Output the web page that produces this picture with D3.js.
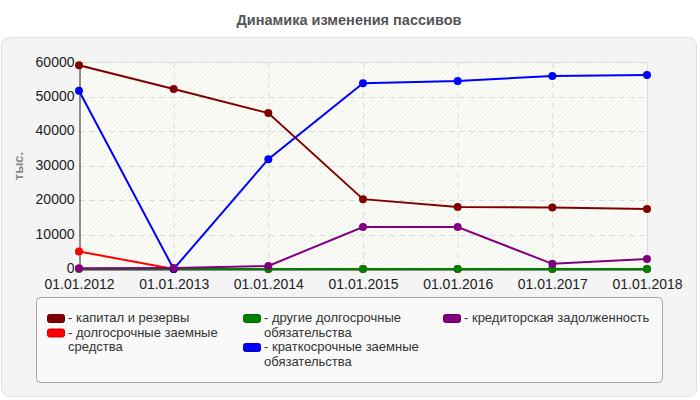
<!DOCTYPE html>
<meta charset="utf-8">
<style>
body { margin: 0; background: #fff; }
svg { font-family: "Liberation Sans", Arial, sans-serif; }
.tick text { fill: #222; font-size: 14px; }
.legend text { fill: #333; font-size: 13px; }
</style>
<svg width="700" height="400"></svg>
<script src="https://d3js.org/d3.v7.min.js"></script>
<script>

var dates = ["01.01.2012", "01.01.2013", "01.01.2014", "01.01.2015", "01.01.2016", "01.01.2017", "01.01.2018"];
var yTicks = [0, 10000, 20000, 30000, 40000, 50000, 60000];

var capital = [59200, 52300, 45300, 20300, 18000, 17900, 17400];
var longLoans = [5100, 0, 0, 0, 0, 0, 0];
var otherLong = [0, 0, 0, 0, 0, 0, 0];
var shortLoans = [51800, 0, 31900, 54000, 54600, 56100, 56400];
var payables = [200, 300, 900, 12200, 12200, 1500, 2900];

var seriesNames = ["капитал и резервы", "долгосрочные заемные средства", "другие долгосрочные обязательства",
                   "краткосрочные заемные обязательства", "кредиторская задолженность"];
var seriesColors = ["#800000", "#ff0000", "#008000", "#0000ff", "#800080"];
var seriesValues = [capital, longLoans, otherLong, shortLoans, payables];

var svg = d3.select("svg");

// title
svg.append("text")
    .attr("x", 349).attr("y", 25)
    .attr("text-anchor", "middle")
    .style("font-size", "14.5px").style("font-weight", "bold").style("fill", "#555")
    .text("Динамика изменения пассивов");

// outer panel
svg.append("rect")
    .attr("x", 1.5).attr("y", 37.5).attr("width", 695).attr("height", 359).attr("rx", 8)
    .attr("fill", "#f4f4f4").attr("stroke", "#e0e0e0");

var x = d3.scalePoint().domain(dates).range([79, 647]);
var y = d3.scaleLinear().domain([0, 60000]).range([269, 62.5]);

// hatch
var defs = svg.append("defs");
var pat = defs.append("pattern").attr("id", "hatch")
    .attr("patternUnits", "userSpaceOnUse").attr("width", 5).attr("height", 5);
pat.append("rect").attr("width", 5).attr("height", 5).attr("fill", "#fcfcf7");
pat.append("path").attr("d", "M0,5 L5,0 M-1,1 L1,-1 M4,6 L6,4").attr("stroke", "#eeeeec").attr("stroke-width", 1);

svg.append("rect")
    .attr("x", x.range()[0]).attr("y", y(60000))
    .attr("width", x.range()[1] - x.range()[0]).attr("height", y(0) - y(60000))
    .attr("fill", "url(#hatch)");

// grid
var grid = svg.append("g").attr("stroke", "#dcdcdc").attr("fill", "none");
grid.selectAll(".hg").data(yTicks.slice(1, -1)).enter().append("line")
    .attr("x1", x.range()[0]).attr("x2", x.range()[1])
    .attr("y1", function(d) { return Math.round(y(d)) + 0.5; })
    .attr("y2", function(d) { return Math.round(y(d)) + 0.5; })
    .attr("stroke-dasharray", "6,4");
grid.selectAll(".vg").data(dates.slice(1, -1)).enter().append("line")
    .attr("x1", function(d) { return x(d) + 0.5; }).attr("x2", function(d) { return x(d) + 0.5; })
    .attr("y1", y(60000)).attr("y2", y(0))
    .attr("stroke-dasharray", "6,4");
grid.append("line").attr("x1", x.range()[0]).attr("x2", x.range()[1])
    .attr("y1", y(60000)).attr("y2", y(60000));
grid.append("line").attr("x1", x.range()[1] + 0.5).attr("x2", x.range()[1] + 0.5)
    .attr("y1", y(60000)).attr("y2", y(0));

// axes
var yAxis = svg.append("g").attr("transform", "translate(79.5,0)")
    .call(d3.axisLeft(y).tickValues(yTicks).tickSize(0).tickPadding(5).tickFormat(d3.format("d")));
yAxis.select(".domain").attr("stroke", "#222");
yAxis.selectAll(".tick text").attr("dy", "0.25em");
var xAxis = svg.append("g").attr("transform", "translate(0," + (y(0) + 0.5) + ")")
    .call(d3.axisBottom(x).tickSize(0).tickPadding(10));
xAxis.select(".domain").attr("stroke", "#222");

svg.append("text")
    .attr("transform", "translate(23,166) rotate(-90)")
    .attr("text-anchor", "middle")
    .style("font-size", "13px").style("font-weight", "bold").style("fill", "#888")
    .text("тыс.");

// lines
var line = d3.line()
    .x(function(d, i) { return x(dates[i]); })
    .y(function(d) { return y(d); });

seriesValues.forEach(function(vals, s) {
    var g = svg.append("g");
    g.append("path").datum(vals)
        .attr("d", line)
        .attr("fill", "none")
        .attr("stroke", seriesColors[s])
        .attr("stroke-width", 2);
    g.selectAll("circle").data(vals).enter().append("circle")
        .attr("cx", function(d, i) { return x(dates[i]); })
        .attr("cy", function(d) { return y(d); })
        .attr("r", 4)
        .attr("fill", seriesColors[s]);
});

// legend
svg.append("rect")
    .attr("x", 36.5).attr("y", 297.5).attr("width", 626).attr("height", 85).attr("rx", 4)
    .attr("fill", "#f9f9f9").attr("stroke", "#a8a8a8");

var colX = [47, 243, 443];
var legend = svg.append("g").attr("class", "legend");
var colY = [0, 0, 0];
seriesNames.forEach(function(name, i) {
    var c = Math.floor(i / 2);
    var sx = colX[c];
    var maxW = (c < colX.length - 1 ? colX[c + 1] - 15 : 660) - (sx + 21);
    var top = 322 + colY[c];
    legend.append("rect")
        .attr("x", sx + 0.5).attr("y", top - 7.5).attr("width", 17).attr("height", 8).attr("rx", 2)
        .attr("fill", seriesColors[i]).attr("stroke", d3.color(seriesColors[i]).darker(0.6));
    var words = ("- " + name).split(" ");
    var t = legend.append("text").attr("x", sx + 21).attr("y", top);
    var ts = t.append("tspan").attr("x", sx + 21).attr("dy", 0);
    var cur = [];
    var lines = 1;
    words.forEach(function(w) {
        cur.push(w);
        ts.text(cur.join(" "));
        if (ts.node().getComputedTextLength() > maxW && cur.length > 1) {
            cur.pop();
            ts.text(cur.join(" "));
            cur = [w];
            ts = t.append("tspan").attr("x", sx + 21).attr("dy", 14.5).text(w);
            lines++;
        }
    });
    colY[c] += lines * 14.5;
});

</script>
